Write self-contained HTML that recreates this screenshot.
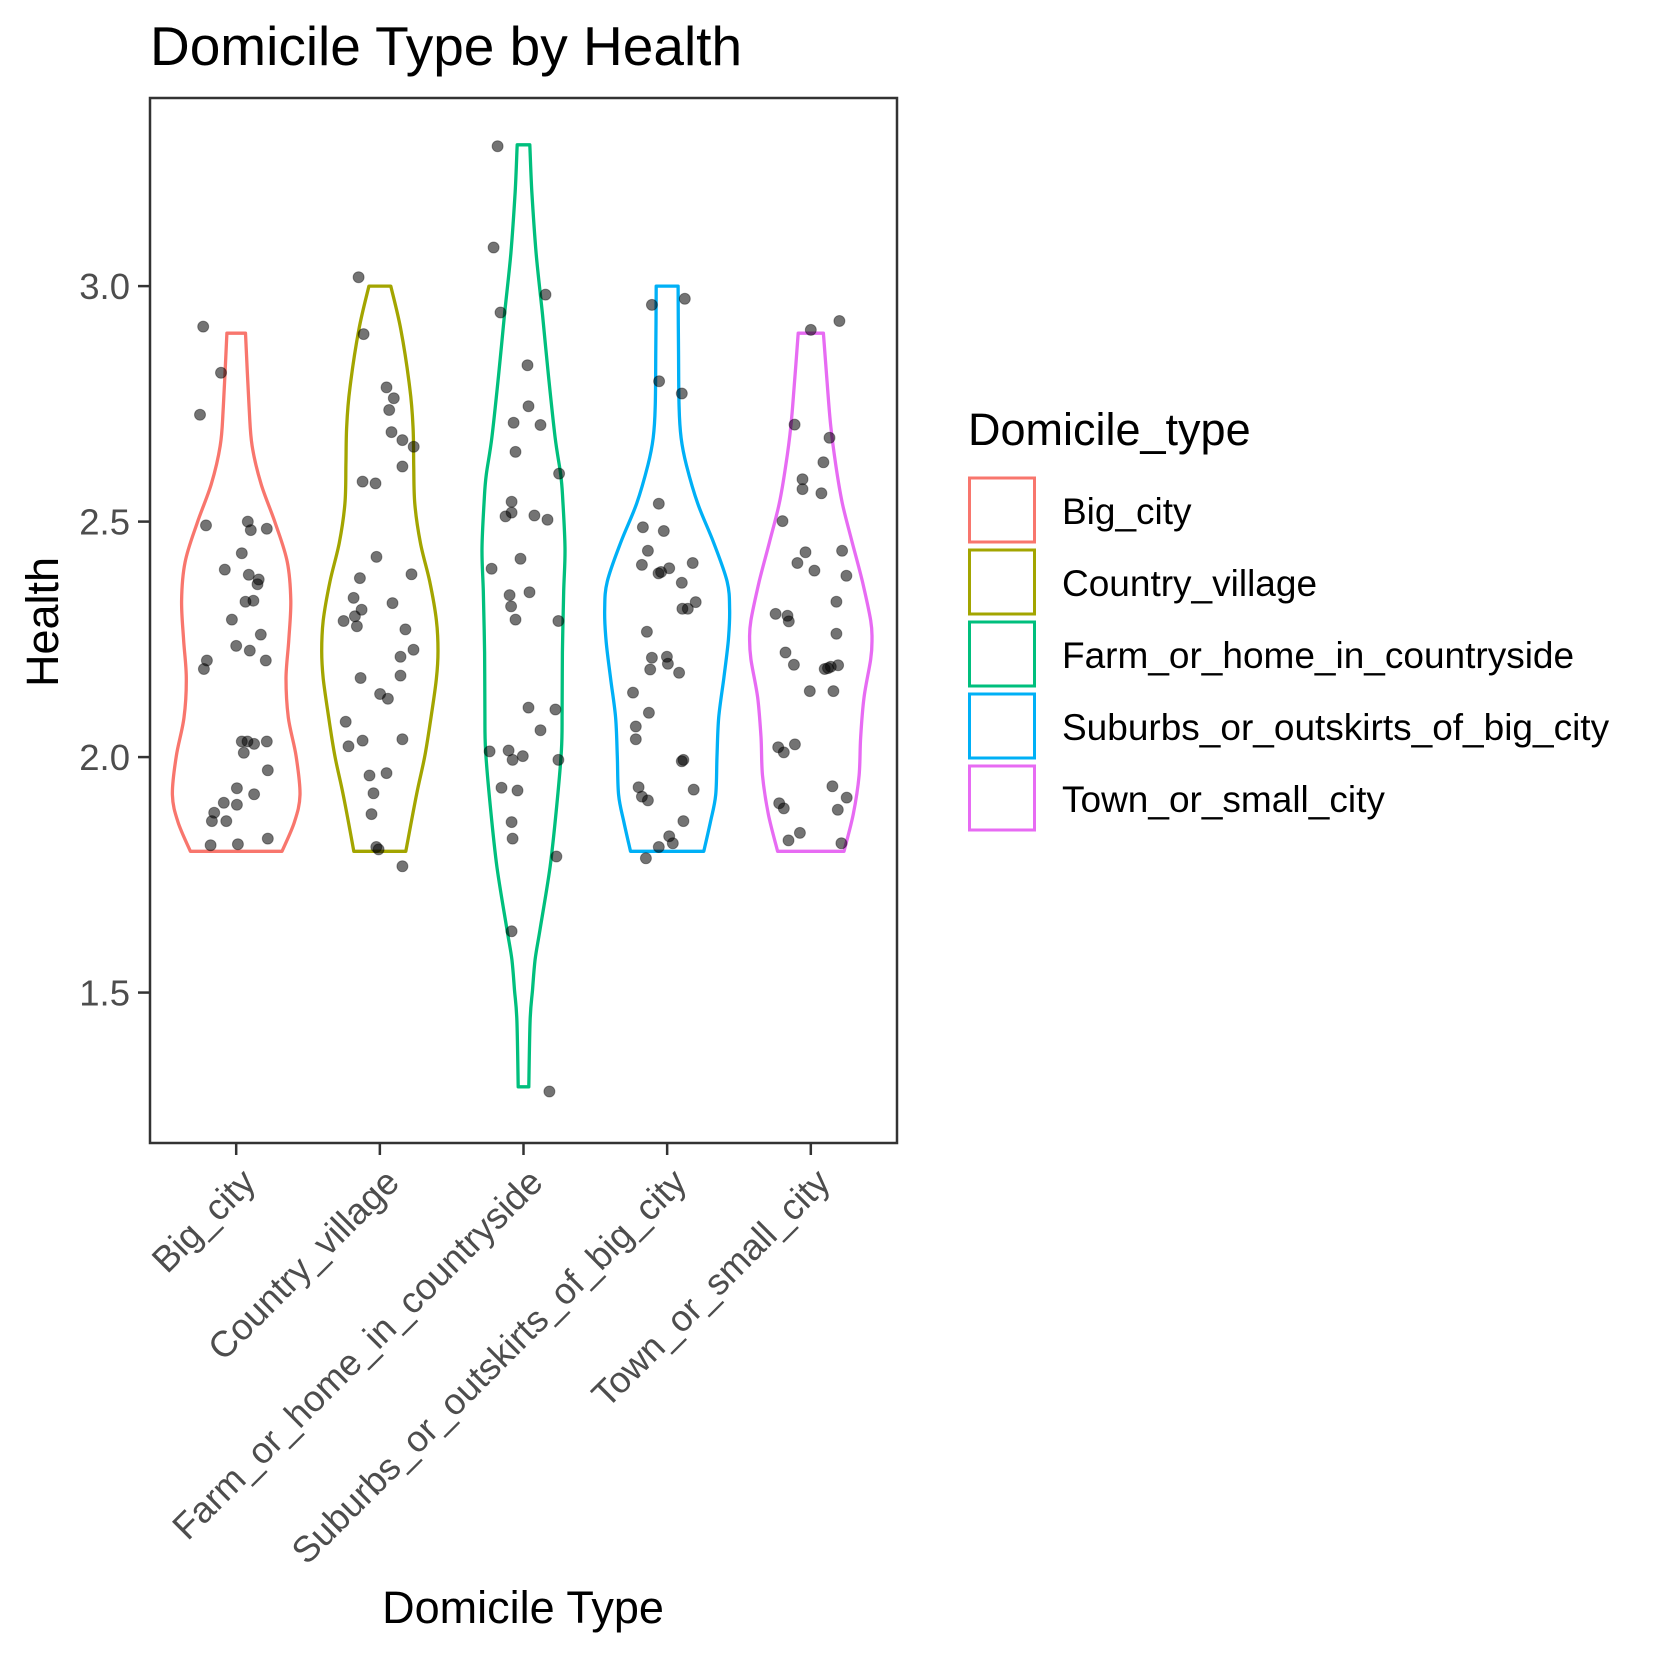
<!DOCTYPE html>
<html><head><meta charset="utf-8"><style>
html,body{margin:0;padding:0;background:#fff;}
svg{display:block;font-family:"Liberation Sans",Arial,sans-serif;}
</style></head><body>
<svg id="chart" width="1653" height="1653" viewBox="0 0 1653 1653">
<text x="150" y="65" font-size="55" fill="#000">Domicile Type by Health</text>
<g id="panel"></g>
<text transform="translate(58,622) rotate(-90)" text-anchor="middle" font-size="45" fill="#000">Health</text>
<text x="523" y="1623" text-anchor="middle" font-size="45" fill="#000">Domicile Type</text>
<g id="legend">
<text x="968" y="445" font-size="45" fill="#000">Domicile_type</text>
</g>
</svg>
<script>
const categories = ["Big_city","Country_village","Farm_or_home_in_countryside","Suburbs_or_outskirts_of_big_city","Town_or_small_city"];
const colors = ["#F8766D","#A3A500","#00BF7D","#00B0F6","#E76BF3"];
const yTicks = [1.5, 2.0, 2.5, 3.0];
const yTickLabels = ["1.5","2.0","2.5","3.0"];
// violin outlines: health levels and half-widths (category units)
const violinY = [
 [2.90,2.743,2.661,2.579,2.496,2.414,2.332,2.249,2.167,2.084,2.002,1.92,1.862,1.80],
 [3.0,2.908,2.785,2.702,2.62,2.538,2.455,2.373,2.29,2.225,2.167,2.084,2.002,1.92,1.80],
 [3.3,3.201,3.07,2.94,2.809,2.679,2.6,2.549,2.444,2.353,2.222,2.092,2.014,1.896,1.767,1.636,1.57,1.505,1.44,1.3],
 [3.0,2.867,2.743,2.678,2.62,2.538,2.455,2.373,2.315,2.249,2.167,2.084,2.002,1.92,1.862,1.80],
 [2.9,2.785,2.702,2.62,2.538,2.455,2.373,2.29,2.249,2.208,2.126,2.043,1.961,1.879,1.80]
];
const violinW = [
 [0.065,0.09,0.111,0.174,0.273,0.356,0.38,0.366,0.347,0.363,0.417,0.444,0.405,0.319],
 [0.076,0.146,0.208,0.231,0.236,0.243,0.282,0.347,0.394,0.405,0.394,0.356,0.313,0.255,0.181],
 [0.044,0.058,0.088,0.132,0.174,0.22,0.259,0.273,0.289,0.28,0.271,0.269,0.264,0.231,0.185,0.116,0.081,0.0625,0.046,0.037],
 [0.076,0.079,0.083,0.097,0.134,0.213,0.324,0.417,0.435,0.426,0.394,0.359,0.347,0.338,0.301,0.255],
 [0.088,0.116,0.139,0.174,0.22,0.289,0.359,0.417,0.426,0.417,0.37,0.347,0.336,0.296,0.231]
];
// jittered points: health values and horizontal jitter (category units)
const pointY = [
 [2.914,2.816,2.727,2.492,2.5,2.482,2.485,2.433,2.398,2.387,2.377,2.367,2.33,2.332,2.292,2.26,2.236,2.226,2.205,2.205,2.187,2.033,2.033,2.028,2.009,2.033,1.972,1.934,1.921,1.903,1.899,1.882,1.864,1.864,1.813,1.815,1.827],
 [3.019,2.898,2.785,2.762,2.737,2.69,2.673,2.659,2.617,2.585,2.581,2.425,2.38,2.388,2.338,2.327,2.313,2.299,2.289,2.278,2.271,2.228,2.213,2.168,2.173,2.134,2.124,2.075,2.035,2.023,2.038,1.961,1.966,1.923,1.879,1.809,1.804,1.768],
 [3.297,3.082,2.982,2.944,2.832,2.745,2.71,2.705,2.648,2.602,2.542,2.519,2.511,2.513,2.504,2.4,2.421,2.344,2.32,2.35,2.292,2.289,2.105,2.101,2.057,2.012,2.014,1.994,2.002,1.994,1.935,1.929,1.862,1.827,1.789,1.63,1.29],
 [2.96,2.973,2.798,2.772,2.538,2.488,2.48,2.438,2.408,2.39,2.393,2.401,2.412,2.37,2.329,2.315,2.315,2.266,2.211,2.213,2.198,2.186,2.179,2.137,2.094,2.065,2.038,1.994,1.991,1.936,1.916,1.908,1.931,1.864,1.832,1.817,1.809,1.785],
 [2.907,2.926,2.706,2.678,2.626,2.59,2.569,2.56,2.501,2.435,2.438,2.412,2.396,2.385,2.33,2.304,2.3,2.288,2.262,2.222,2.196,2.187,2.189,2.192,2.195,2.14,2.14,2.021,2.01,2.027,1.938,1.914,1.888,1.902,1.891,1.839,1.823,1.817]
];
const pointJ = [
 [-0.23,-0.106,-0.252,-0.21,0.081,0.102,0.213,0.039,-0.079,0.088,0.157,0.148,0.065,0.12,-0.03,0.171,0,0.095,0.206,-0.204,-0.225,0.039,0.079,0.125,0.053,0.213,0.22,0.005,0.125,-0.086,0.005,-0.153,-0.169,-0.069,-0.178,0.012,0.22],
 [-0.148,-0.113,0.046,0.097,0.065,0.081,0.157,0.236,0.157,-0.12,-0.03,-0.023,-0.139,0.22,-0.183,0.088,-0.127,-0.174,-0.252,-0.16,0.178,0.234,0.144,-0.134,0.144,0.002,0.056,-0.238,-0.12,-0.218,0.157,-0.072,0.046,-0.044,-0.058,-0.025,-0.009,0.157],
 [-0.18,-0.208,0.153,-0.16,0.028,0.035,-0.069,0.118,-0.056,0.248,-0.083,-0.083,-0.125,0.076,0.167,-0.222,-0.021,-0.097,-0.086,0.042,-0.056,0.243,0.035,0.222,0.118,-0.236,-0.104,-0.076,-0.005,0.243,-0.153,-0.042,-0.083,-0.076,0.229,-0.083,0.18],
 [-0.106,0.123,-0.056,0.102,-0.058,-0.169,-0.023,-0.134,-0.176,-0.06,-0.042,0.014,0.178,0.102,0.199,0.106,0.144,-0.141,-0.106,-0.002,0.005,-0.118,0.083,-0.238,-0.127,-0.218,-0.218,0.113,0.102,-0.199,-0.176,-0.134,0.185,0.113,0.014,0.039,-0.058,-0.148],
 [0,0.199,-0.113,0.13,0.088,-0.058,-0.058,0.074,-0.197,-0.037,0.218,-0.093,0.025,0.248,0.178,-0.245,-0.162,-0.153,0.178,-0.176,-0.118,0.097,0.12,0.139,0.19,-0.007,0.157,-0.227,-0.188,-0.111,0.15,0.25,0.188,-0.22,-0.188,-0.076,-0.155,0.213]
];

const NS="http://www.w3.org/2000/svg";
const P={l:150,r:897,t:98,b:1143};
const yMin=1.1806, yMax=3.3994;
function yS(v){return P.b-(v-yMin)/(yMax-yMin)*(P.b-P.t);}
const step=(P.r-P.l)/(categories.length+0.2);
function xS(i){return P.l+step*(0.6+i);}
function wS(u){return u*step;}
function mk(tag,attrs,parent){const e=document.createElementNS(NS,tag);for(const k in attrs)e.setAttribute(k,attrs[k]);parent.appendChild(e);return e;}
function smoothSide(pts){
  // Catmull-Rom to cubic bezier through points
  let d='';
  for(let k=0;k<pts.length-1;k++){
    const p0=pts[Math.max(k-1,0)],p1=pts[k],p2=pts[k+1],p3=pts[Math.min(k+2,pts.length-1)];
    const c1=[p1[0]+(p2[0]-p0[0])/6,p1[1]+(p2[1]-p0[1])/6];
    const c2=[p2[0]-(p3[0]-p1[0])/6,p2[1]-(p3[1]-p1[1])/6];
    d+=' C'+c1[0].toFixed(1)+','+c1[1].toFixed(1)+' '+c2[0].toFixed(1)+','+c2[1].toFixed(1)+' '+p2[0].toFixed(1)+','+p2[1].toFixed(1);
  }
  return d;
}
const panel=document.getElementById('panel');
const legend=document.getElementById('legend');

// violins
categories.forEach((c,i)=>{
  const cx=xS(i), ys=violinY[i], ws=violinW[i];
  const right=ys.map((y,k)=>[cx+wS(ws[k]),yS(y)]);
  const left=ys.map((y,k)=>[cx-wS(ws[k]),yS(y)]).reverse();
  let d='M'+left[left.length-1][0].toFixed(1)+','+left[left.length-1][1].toFixed(1)+' L'+right[0][0].toFixed(1)+','+right[0][1].toFixed(1);
  d+=smoothSide(right);
  d+=' L'+left[0][0].toFixed(1)+','+left[0][1].toFixed(1);
  d+=smoothSide(left)+' Z';
  const v=mk('path',{d:d,fill:'none',stroke:colors[i],'stroke-width':3.3,'stroke-linejoin':'round'},panel);
  
  
});
// points
categories.forEach((c,i)=>{
  const g=mk('g',{},panel);
  
  
  pointY[i].forEach((v,k)=>{
    const d=mk('circle',{cx:(xS(i)+wS(pointJ[i][k])).toFixed(1),cy:yS(v).toFixed(1),r:5.5,fill:'rgba(0,0,0,0.55)',stroke:'rgba(0,0,0,0.35)','stroke-width':1},g);
    
    
  });
});
// panel border
const border=mk('rect',{x:P.l,y:P.t,width:P.r-P.l,height:P.b-P.t,fill:'none',stroke:'#333','stroke-width':2.5},panel);


// y ticks
yTicks.forEach((v,k)=>{
  const y=yS(v);
  const t=mk('line',{x1:P.l-12,x2:P.l,y1:y,y2:y,stroke:'#333','stroke-width':2.5},panel);
  
  
  const l=mk('text',{x:P.l-20,y:y+13,'text-anchor':'end','font-size':36.5,fill:'#4D4D4D'},panel);
  l.textContent=yTickLabels[k];
  
  
});
// x ticks
categories.forEach((c,i)=>{
  const x=xS(i);
  const t=mk('line',{x1:x,x2:x,y1:P.b,y2:P.b+12,stroke:'#333','stroke-width':2.5},panel);
  
  
  const l=mk('text',{transform:'translate('+(x+2)+','+(P.b+22)+') rotate(-45)','text-anchor':'end','font-size':36.5,fill:'#4D4D4D',dy:'0.75em'},panel);
  l.textContent=c;
  
  
});
// legend
categories.forEach((c,i)=>{
  const y0=478+i*72;
  const r=mk('rect',{x:969.5,y:y0,width:65,height:64,fill:'#fff',stroke:colors[i],'stroke-width':3},legend);
  
  
  const l=mk('text',{x:1062,y:y0+46,'font-size':37,fill:'#000'},legend);
  l.textContent=c;
  
  
});
</script>
</body></html>
